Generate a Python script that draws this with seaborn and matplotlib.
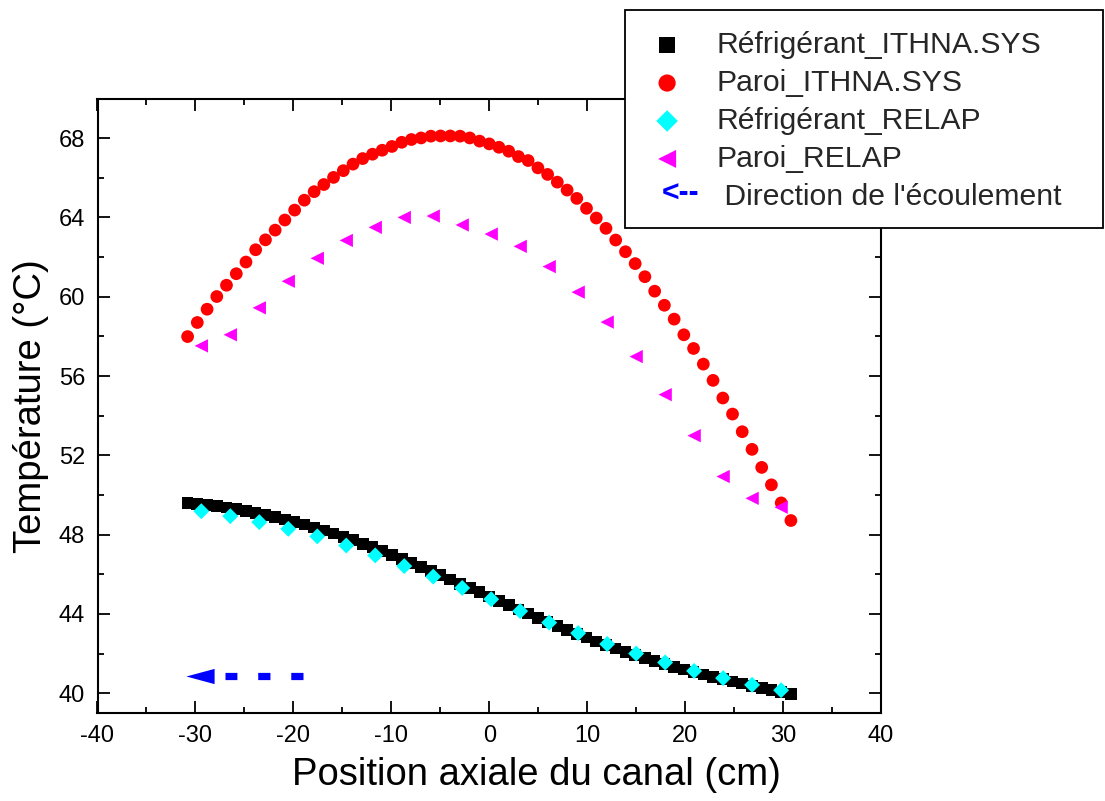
import numpy as np
import matplotlib
matplotlib.use("Agg")
import matplotlib.pyplot as plt
import seaborn as sns
from matplotlib.legend_handler import HandlerBase
from matplotlib.text import Text
from matplotlib.patches import Rectangle
from matplotlib.path import Path
from matplotlib.ticker import MultipleLocator

# ---------------------------------------------------------------- data
# axial positions of the ITHNA.SYS nodes (cm)
x_ithna = [-30.80, -29.81, -28.81, -27.82, -26.83, -25.83, -24.84, -23.85, -22.85,
           -21.86, -20.87, -19.87, -18.88, -17.88, -16.89, -15.90, -14.90, -13.91,
           -12.92, -11.92, -10.93, -9.94, -8.94, -7.95, -6.96, -5.96, -4.97, -3.98,
           -2.98, -1.99, -0.99, 0.00, 0.99, 1.99, 2.98, 3.97, 4.97, 5.96, 6.95, 7.95,
           8.94, 9.93, 10.93, 11.92, 12.91, 13.91, 14.90, 15.89, 16.89, 17.88, 18.88,
           19.87, 20.86, 21.86, 22.85, 23.85, 24.84, 25.83, 26.83, 27.82, 28.81,
           29.81, 30.80]

# coolant temperature, ITHNA.SYS (°C)
t_cool_ithna = [49.58, 49.54, 49.49, 49.43, 49.36, 49.28, 49.19, 49.10, 49.00, 48.89,
                48.77, 48.64, 48.50, 48.36, 48.21, 48.05, 47.89, 47.72, 47.54, 47.36,
                47.17, 46.98, 46.78, 46.58, 46.37, 46.16, 45.95, 45.74, 45.52, 45.31,
                45.09, 44.87, 44.65, 44.44, 44.22, 44.01, 43.80, 43.59, 43.39, 43.19,
                42.99, 42.80, 42.61, 42.43, 42.25, 42.08, 41.92, 41.76, 41.61, 41.47,
                41.33, 41.20, 41.07, 40.94, 40.82, 40.70, 40.59, 40.48, 40.37, 40.26,
                40.16, 40.06, 39.97]

# wall temperature, ITHNA.SYS (°C)
t_wall_ithna = [57.99, 58.70, 59.37, 60.01, 60.58, 61.16, 61.75, 62.37, 62.87, 63.36,
                63.87, 64.37, 64.87, 65.30, 65.66, 66.02, 66.36, 66.69, 66.97, 67.19,
                67.39, 67.58, 67.79, 67.93, 68.01, 68.10, 68.11, 68.11, 68.10, 68.01,
                67.85, 67.71, 67.54, 67.34, 67.07, 66.87, 66.50, 66.17, 65.78, 65.38,
                64.96, 64.46, 63.97, 63.45, 62.86, 62.27, 61.67, 61.01, 60.28, 59.57,
                58.87, 58.08, 57.39, 56.60, 55.78, 54.89, 54.08, 53.19, 52.30, 51.39,
                50.51, 49.60, 48.71]

# axial positions of the RELAP volumes (cm)
x_relap = [-29.40, -26.44, -23.48, -20.52, -17.56, -14.60, -11.64, -8.68, -5.72,
           -2.76, 0.20, 3.16, 6.12, 9.08, 12.04, 15.00, 17.96, 20.92, 23.88, 26.84,
           29.80]

# coolant temperature, RELAP (°C)
t_cool_relap = [49.18, 48.93, 48.63, 48.29, 47.91, 47.45, 46.95, 46.41, 45.88, 45.31,
                44.74, 44.14, 43.56, 43.03, 42.48, 42.00, 41.55, 41.12, 40.76, 40.42,
                40.15]

# wall temperature, RELAP (°C)
t_wall_relap = [57.52, 58.08, 59.44, 60.78, 61.94, 62.84, 63.50, 64.00, 64.07, 63.62,
                63.16, 62.54, 61.52, 60.23, 58.72, 56.98, 55.06, 52.99, 50.93, 49.83,
                49.38]

# flow direction arrow: tail -> tip (cm), drawn at a fixed temperature level
flow_arrow_x = [-19.0, -31.0]
flow_arrow_y = 40.87

labels = ["Réfrigérant_ITHNA.SYS", "Paroi_ITHNA.SYS", "Réfrigérant_RELAP",
          "Paroi_RELAP", " Direction de l'écoulement"]

# ---------------------------------------------------------------- style
sns.set_style("ticks")
plt.rcParams["font.family"] = ["Liberation Sans", "DejaVu Sans"]
plt.rcParams["lines.scale_dashes"] = False
plt.rcParams["axes.unicode_minus"] = False

W, H = 1105, 801
fig = plt.figure(figsize=(W / 100, H / 100), dpi=100)
ax = fig.add_axes([97.5 / W, (H - 713) / H, (881 - 97.5) / W, (713 - 98.5) / H])

series = [
    (x_ithna, t_cool_ithna, "s", "#000000", 70),
    (x_ithna, t_wall_ithna, "o", "#FF0000", 84),
    (x_relap, t_cool_relap, "D", "#00FFFF", 66),
    (x_relap, t_wall_relap, "<", "#FF00FF", 92),
]
handles = []
for (xs, ys, mk, col, size), lab in zip(series, labels):
    sns.scatterplot(x=xs, y=ys, marker=mk, color=col, s=size, linewidth=0,
                    edgecolor="none", ax=ax, label=lab, legend=False, zorder=3)
    handles.append(ax.collections[-1])

# flow direction: dashed shaft + filled head
x_tail, x_tip = flow_arrow_x
head_len = 2.9
shaft_gap = 1.1
ax.plot([x_tail, x_tip + head_len + shaft_gap], [flow_arrow_y, flow_arrow_y],
        color="#0000FF", lw=5.2, dashes=(8.8, 15.0), solid_capstyle="butt",
        dash_capstyle="butt", zorder=2)
head = Path([(-1, 0), (1, 0.54), (1, -0.54), (-1, 0)],
            [Path.MOVETO, Path.LINETO, Path.LINETO, Path.CLOSEPOLY])
ax.plot([x_tip + head_len / 2], [flow_arrow_y], marker=head, markersize=20.3,
        color="#0000FF", markeredgewidth=0, linestyle="none", zorder=2)

ax.set_xlim(-40, 40)
ax.set_ylim(39, 70)
ax.xaxis.set_major_locator(MultipleLocator(10))
ax.xaxis.set_minor_locator(MultipleLocator(5))
ax.yaxis.set_major_locator(MultipleLocator(4))
ax.yaxis.set_minor_locator(MultipleLocator(2))
ax.set_yticks(np.arange(40, 69, 4))
ax.tick_params(which="both", direction="in", top=True, right=True, width=1.3,
               color="black", labelsize=17, labelcolor="black")
ax.tick_params(which="major", length=8.8, pad=9)
ax.tick_params(which="minor", length=4.5)
for sp in ax.spines.values():
    sp.set_visible(True)
    sp.set_linewidth(1.5)
    sp.set_color("black")
ax.set_facecolor("white")

ax.set_xlabel("Position axiale du canal (cm)", fontsize=27.5, color="black")
ax.set_ylabel("Température (°C)", fontsize=27.5, labelpad=7, color="black")
ax.xaxis.set_label_coords((536 - 97.5) / (881 - 97.5), -0.072)


# legend entry drawn as coloured text instead of a marker
class TextSymbol:
    def __init__(self, text, color):
        self.text = text
        self.color = color


class HandlerTextSymbol(HandlerBase):
    def create_artists(self, legend, orig_handle, xdescent, ydescent, width, height,
                       fontsize, trans):
        t = Text(width / 2 - xdescent + 10, height / 2 - ydescent, orig_handle.text,
                 color=orig_handle.color, fontsize=fontsize, fontweight="bold",
                 ha="center", va="center", transform=trans)
        return [t]


flow_symbol = TextSymbol("<--", "#0000FF")
leg = fig.legend(handles + [flow_symbol], labels,
                 handler_map={TextSymbol: HandlerTextSymbol()},
                 loc="upper left", bbox_to_anchor=(646 / W, 1 - 31 / H),
                 frameon=False, fontsize=21.7, borderpad=0, borderaxespad=0,
                 handlelength=1.4, handletextpad=0.93, labelspacing=0.33,
                 markerscale=1.35)
fig.add_artist(Rectangle((625 / W, 1 - 228 / H), (1103 - 625) / W, (228 - 10) / H,
                         transform=fig.transFigure, facecolor="white",
                         edgecolor="black", linewidth=1.3, zorder=0.5))
leg.set_zorder(5)

fig.savefig("out.png", dpi=100, facecolor="white")
